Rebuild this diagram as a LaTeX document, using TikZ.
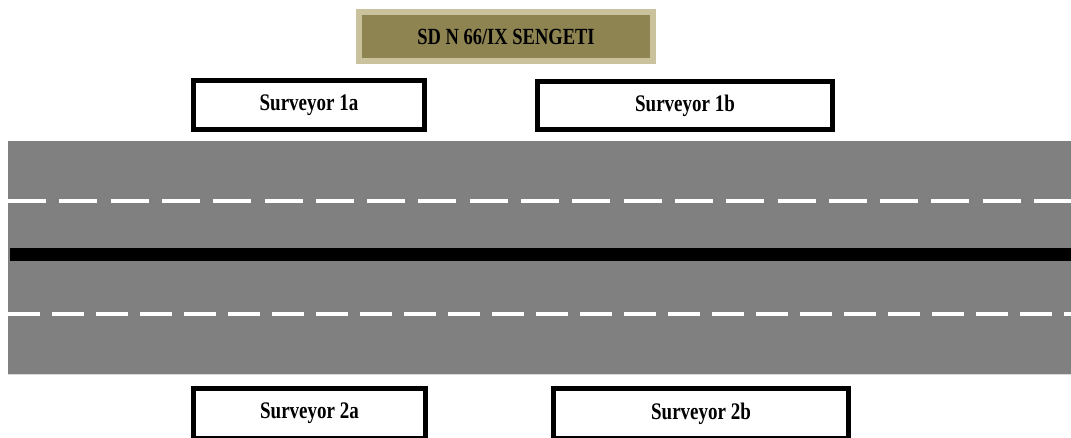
\documentclass[tikz,border=0pt]{standalone}
\usepackage{fontspec}
\usepackage{graphicx}
\setmainfont{Liberation Serif}
\definecolor{roadgray}{HTML}{808080}
\definecolor{olivefill}{HTML}{8E8452}
\definecolor{beigeedge}{HTML}{CAC19D}
\newcommand{\tallbf}[1]{\scalebox{1}[1.25]{\bfseries #1}}
\begin{document}
\begin{tikzpicture}[x=1pt,y=1pt,
  survbox/.style={draw=black, line width=5pt, fill=white, inner sep=0pt,
    font=\fontsize{19}{22}\selectfont},
  titlebox/.style={draw=beigeedge, line width=6pt, fill=olivefill, inner sep=0pt,
    font=\fontsize{18.5}{22}\selectfont},
  lanedash/.style={draw=white, line width=4pt}]
\useasboundingbox (0,0) rectangle (1071,437);
\clip (0,0) rectangle (1071,437);
% road
\fill[roadgray] (8,63) rectangle (1071,296);
\draw[black!15, line width=1pt] (8,62.5) -- (1071,62.5);
\coordinate (d1s) at (8,236);
\coordinate (d1e) at (1071,236);
\coordinate (d2s) at (8,123.5);
\coordinate (d2e) at (1071,123.5);
\coordinate (cs) at (10,182.5);
\coordinate (ce) at (1071,182.5);
\draw[lanedash, dash pattern=on 38pt off 13.3pt] (d1s) -- (d1e);
\draw[lanedash, dash pattern=on 32pt off 12pt] (d2s) -- (d2e);
\draw[black, line width=13pt] (cs) -- (ce);
% title
\node[titlebox, minimum width=294pt, minimum height=49pt] (title) at (506,400.5) {\tallbf{SD N 66/IX SENGETI}};
% surveyors
\node[survbox, minimum width=231pt, minimum height=49pt] (s1a) at (309,332) {\tallbf{Surveyor 1a}};
\node[survbox, minimum width=295pt, minimum height=48pt] (s1b) at (685,331.5) {\tallbf{Surveyor 1b}};
\node[survbox, minimum width=232pt, minimum height=50pt] (s2a) at (309.5,23.5) {\tallbf{Surveyor 2a}};
\node[survbox, minimum width=295pt, minimum height=50pt] (s2b) at (701,23.5) {\tallbf{Surveyor 2b}};
\end{tikzpicture}
\end{document}
